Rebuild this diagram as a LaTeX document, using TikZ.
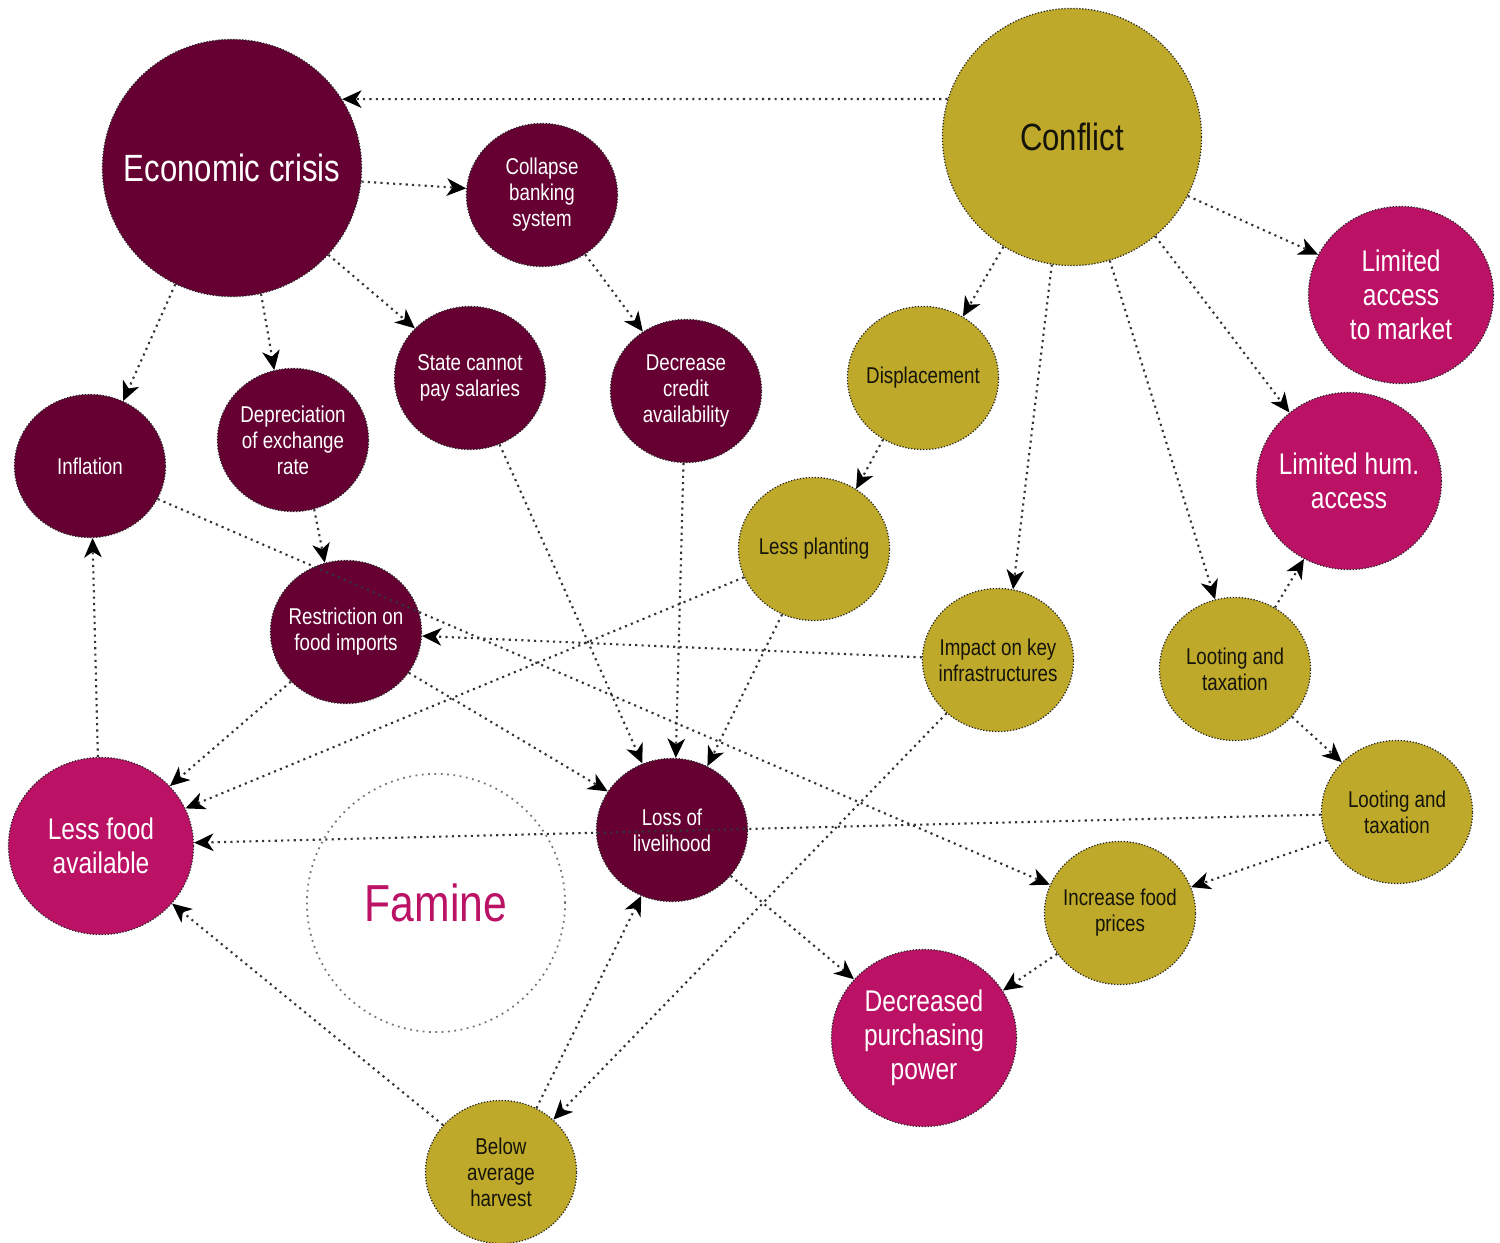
\documentclass[tikz,border=0pt]{standalone}
\usepackage{fontspec}
\setmainfont{Liberation Sans}[FakeStretch=0.82]
\usetikzlibrary{shapes.geometric,arrows.meta}
\definecolor{maroon}{RGB}{102,0,51}
\definecolor{goldc}{RGB}{191,169,42}
\definecolor{magc}{RGB}{187,18,102}
\definecolor{txtdark}{RGB}{20,20,10}
\begin{document}
\begin{tikzpicture}[x=0.01cm,y=-0.01cm,
 bub/.style={ellipse, draw=black!85, line width=0.35pt, dash pattern=on 0.35pt off 0.5pt, inner sep=0pt},
 sm/.style={bub, minimum width=1.51cm, minimum height=1.43cm},
 md/.style={bub, minimum width=1.85cm, minimum height=1.77cm},
 bg/.style={bub, minimum width=2.59cm, minimum height=2.57cm},
 maro/.style={fill=maroon},
 goldb/.style={fill=goldc},
 magb/.style={fill=magc},
 st/.style={align=center, font=\fontsize{6.5}{7.4}\selectfont, inner sep=0pt},
 mt/.style={align=center, font=\fontsize{8.5}{9.7}\selectfont, inner sep=0pt},
 bt/.style={align=center, font=\fontsize{10.8}{12}\selectfont, inner sep=0pt},
 wt/.style={text=white}, kt/.style={text=txtdark},
 conn/.style={draw=black!80, line width=0.6pt, dash pattern=on 0.6pt off 1.2pt, -{Stealth[length=5.5pt,width=5pt,inset=1.6pt,color=black]}},
]
\useasboundingbox (0,0) rectangle (1500,1243);

% famine
\node[circle, draw=black!55, line width=0.5pt, dash pattern=on 0.5pt off 1.3pt, minimum size=2.58cm, inner sep=0pt,
  text=magc, font=\fontsize{14.8}{16}\selectfont] (fam) at (436,903) {Famine};

% economic side
\node[bg, maro, label={[bt,wt]center:Economic crisis}] (ec) at (232,168) {};
\node[sm, maro, label={[st,wt]center:{Collapse\\banking\\system}}] (cbs) at (542,195) {};
\node[sm, maro, label={[st,wt]center:{State cannot\\pay salaries}}] (scp) at (470,378) {};
\node[sm, maro, label={[st,wt]center:{Decrease\\credit\\availability}}] (dca) at (686,391) {};
\node[sm, maro, label={[st,wt]center:Inflation}] (infl) at (90,466) {};
\node[sm, maro, label={[st,wt]center:{Depreciation\\of exchange\\rate}}] (dep) at (293,440) {};
\node[sm, maro, label={[st,wt]center:{Restriction on\\food imports}}] (rfi) at (346,632) {};
\node[sm, maro, label={[st,wt]center:{Loss of\\livelihood}}] (lol) at (672,830) {};

% conflict side
\node[bg, goldb, label={[bt,kt]center:Conflict}] (conf) at (1072,137) {};
\node[sm, goldb, label={[st,kt]center:Displacement}] (disp) at (923,378) {};
\node[sm, goldb, label={[st,kt]center:Less planting}] (lp) at (814,549) {};
\node[sm, goldb, label={[st,kt]center:{Impact on key\\infrastructures}}] (iki) at (998,660) {};
\node[sm, goldb, label={[st,kt]center:{Looting and\\taxation}}] (lt1) at (1235,669) {};
\node[sm, goldb, label={[st,kt]center:{Looting and\\taxation}}] (lt2) at (1397,812) {};
\node[sm, goldb, label={[st,kt]center:{Increase food\\prices}}] (ifp) at (1120,913) {};
\node[sm, goldb, label={[st,kt]center:{Below\\average\\harvest}}] (bah) at (501,1172) {};

% outcomes
\node[md, magb, label={[mt,wt]center:{Limited\\access\\to market}}] (lam) at (1401,295) {};
\node[md, magb, label={[mt,wt]center:{Limited hum.\\access}}] (lha) at (1349,481) {};
\node[md, magb, label={[mt,wt]center:{Less food\\available}}] (lfa) at (101,846) {};
\node[md, magb, label={[mt,wt]center:{Decreased\\purchasing\\power}}] (dpp) at (924,1038) {};

% connectors
\draw[conn] (conf.163) -- (ec.32);
\draw[conn] (ec.-6) -- (cbs.175);
\draw[conn] (ec.-42) -- (scp.138);
\draw[conn] (ec.-116) -- (infl.63);
\draw[conn] (ec.-77) -- (dep.105);
\draw[conn] (cbs.-54) -- (dca.126);
\draw[conn] (scp.-66) -- (lol.114);
\draw[conn] (dca.-92) -- (lol.87);
\draw[conn] (lp.-116) -- (lol.61);
\draw[conn] (conf.-122) -- (disp.57);
\draw[conn] (disp.-123) -- (lp.55);
\draw[conn] (conf.-99) -- (iki.78);
\draw[conn] (conf.-73) -- (lt1.106);
\draw[conn] (conf.-50) -- (lha.131);
\draw[conn] (conf.-27) -- (lam.154);
\draw[conn] (lt1.57) -- (lha.-120);
\draw[conn] (lt1.-40) -- (lt2.138);
\draw[conn] (lt2.-158) -- (ifp.20);
\draw[conn] (lt2.182) -- (lfa.2);
\draw[conn] (infl.-26) -- (ifp.158);
\draw[conn] (dep.-73) -- (rfi.107);
\draw[conn] (iki.178) -- (rfi.-3);
\draw[conn] (rfi.-33) -- (lol.149);
\draw[conn] (rfi.-138) -- (lfa.41);
\draw[conn] (lp.-158) -- (lfa.24);
\draw[conn] (lfa.92) -- (infl.-88);
\draw[conn] (iki.-134) -- (bah.45);
\draw[conn] (bah.61) -- (lol.-115);
\draw[conn] (bah.141) -- (lfa.-39);
\draw[conn] (lol.-38) -- (dpp.140);
\draw[conn] (ifp.-147) -- (dpp.31);
\end{tikzpicture}
\end{document}
